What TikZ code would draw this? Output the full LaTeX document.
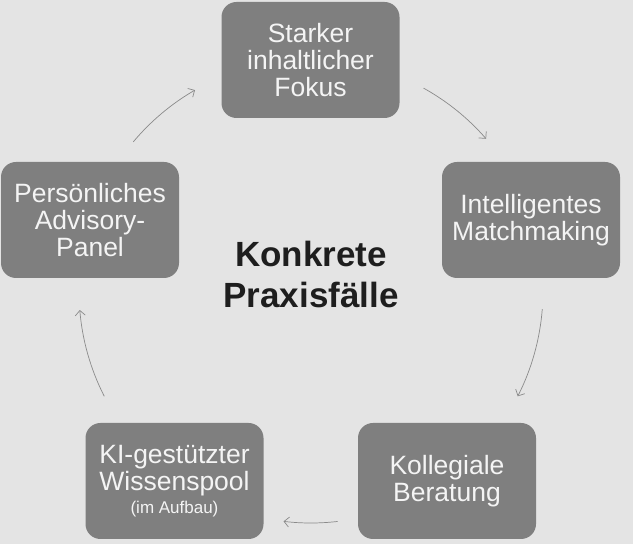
\documentclass[tikz,border=0pt]{standalone}
\usepackage{fontspec}
\setmainfont{Liberation Sans}
\usetikzlibrary{arrows.meta,calc}
\definecolor{bg}{HTML}{E4E4E4}
\definecolor{boxgray}{HTML}{7F7F7F}
\definecolor{boxtext}{HTML}{F4F4F4}
\definecolor{arrowgray}{HTML}{8A8A8A}
\definecolor{centertext}{HTML}{1E1E1E}
\begin{document}
\begin{tikzpicture}[x=1pt,y=1pt,
  stepbox/.style={fill=boxgray, rounded corners=15pt, minimum width=178pt, minimum height=116pt,
    inner sep=0pt, align=center, text=boxtext, font=\fontsize{26.5}{27}\selectfont},
  cyclearrow/.style={draw=arrowgray, line width=0.7pt, -{Straight Barb[length=5pt,width=10pt]}}
]
\fill[bg] (0,0) rectangle (633,544);
\useasboundingbox (0,0) rectangle (633,544);
\coordinate (c) at (311,253);

\node[stepbox] (top) at (310.5,484) {Starker\\inhaltlicher\\Fokus};
\node[stepbox] (right) at (531,324) {Intelligentes\\Matchmaking};
\node[stepbox] (br) at (447,63) {Kollegiale\\Beratung};
\node[stepbox] (bl) at (174.5,63) {KI-gestützter\\Wissenspool\\[-4pt]{\fontsize{17}{17}\selectfont (im Aufbau)}};
\node[stepbox] (left) at (90,324) {Persönliches\\Advisory-\\Panel};

\node[align=center, text=centertext, font=\bfseries\fontsize{35}{41}\selectfont] (mid) at (311,270) {Konkrete\\Praxisfälle};

\coordinate (a1) at ($(c)+(140:232)$);
\coordinate (a2) at ($(c)+(61:232)$);
\coordinate (a3) at ($(c)+(-4.5:232)$);
\coordinate (a4) at ($(c)+(-83.4:232)$);
\coordinate (a5) at ($(c)+(207:232)$);

\draw[cyclearrow] (a1) arc[start angle=140, end angle=120, radius=232];
\draw[cyclearrow] (a2) arc[start angle=61, end angle=41, radius=232];
\draw[cyclearrow] (a3) arc[start angle=-4.5, end angle=-27, radius=232];
\draw[cyclearrow] (a4) arc[start angle=-83.4, end angle=-96.8, radius=232];
\draw[cyclearrow] (a5) arc[start angle=207, end angle=184.7, radius=232];
\end{tikzpicture}
\end{document}
